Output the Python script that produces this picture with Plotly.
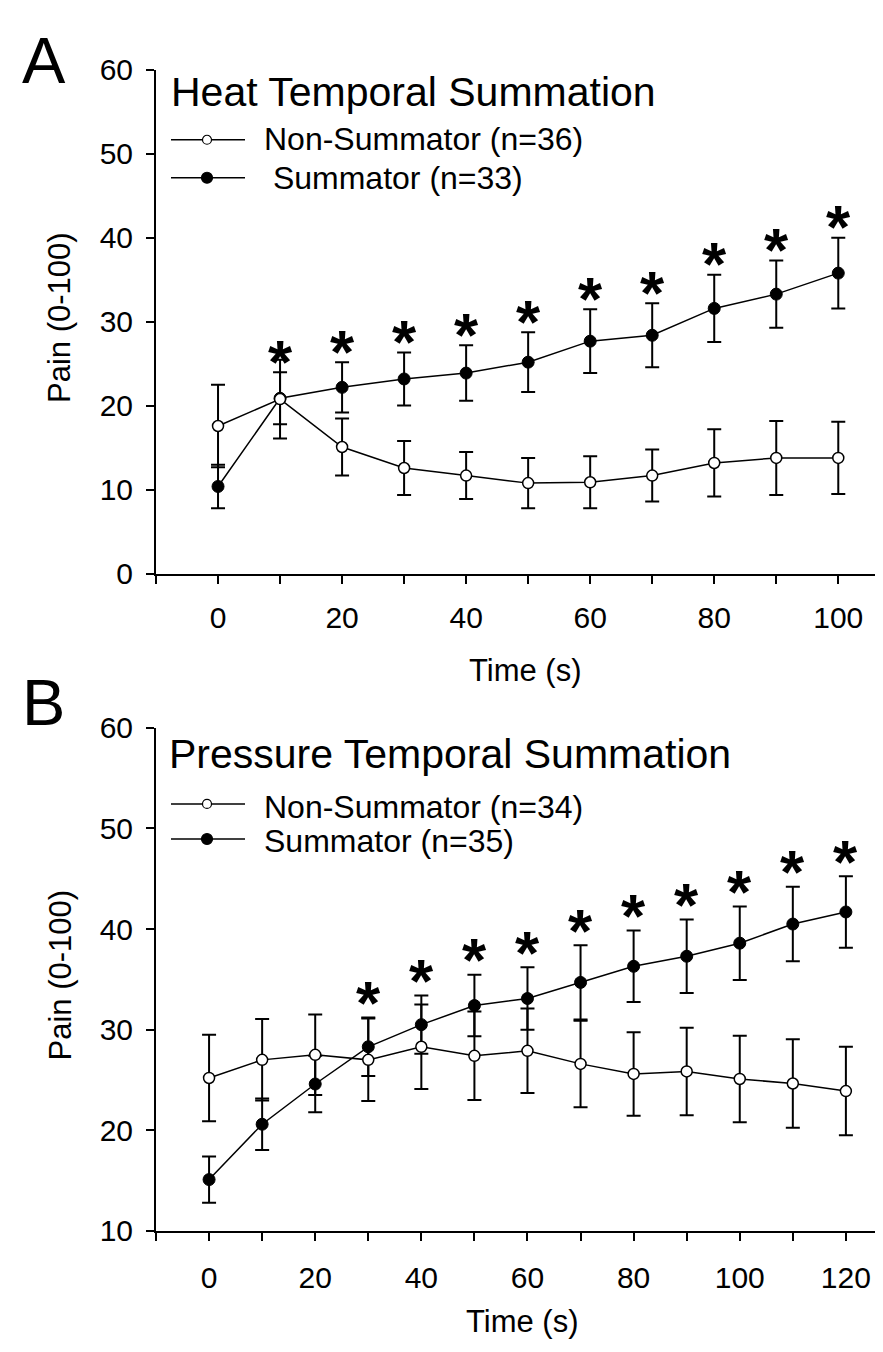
import plotly.graph_objects as go

# Panel A - heat temporal summation
heat_time = [0, 10, 20, 30, 40, 50, 60, 70, 80, 90, 100]
heat_non = [17.6, 20.8, 15.1, 12.6, 11.7, 10.8, 10.9, 11.7, 13.2, 13.8, 13.8]
heat_non_err = [4.9, 4.7, 3.4, 3.2, 2.8, 3.0, 3.1, 3.1, 4.0, 4.4, 4.3]
heat_sum = [10.4, 20.9, 22.2, 23.2, 23.9, 25.2, 27.7, 28.4, 31.6, 33.3, 35.8]
heat_sum_err = [2.6, 3.1, 3.0, 3.15, 3.3, 3.55, 3.8, 3.8, 4.0, 4.0, 4.2]
heat_sig = [False, True, True, True, True, True, True, True, True, True, True]
heat_names = ["Non-Summator (n=36)", "\u00a0Summator (n=33)"]

# Panel B - pressure temporal summation
press_time = [0, 10, 20, 30, 40, 50, 60, 70, 80, 90, 100, 110, 120]
press_non = [25.2, 27.0, 27.5, 27.0, 28.3, 27.4, 27.9, 26.6, 25.6, 25.85, 25.1, 24.65, 23.9]
press_non_err = [4.3, 4.05, 4.0, 4.1, 4.2, 4.4, 4.2, 4.3, 4.15, 4.35, 4.3, 4.4, 4.4]
press_sum = [15.1, 20.6, 24.6, 28.3, 30.5, 32.4, 33.1, 34.7, 36.3, 37.3, 38.6, 40.5, 41.7]
press_sum_err = [2.3, 2.55, 2.8, 2.9, 2.9, 3.05, 3.1, 3.7, 3.55, 3.65, 3.65, 3.7, 3.55]
press_sig = [False, False, False, True, True, True, True, True, True, True, True, True, True]
press_names = ["Non-Summator (n=34)", "Summator (n=35)"]

FONT = "Arial, Liberation Sans, sans-serif"
W, H = 883, 1352


def px(x, y):
    # pixel position -> paper coords
    return x / W, 1 - y / H


fig = go.Figure()


def add_group(x, y, err, filled, xa, ya):
    fig.add_trace(go.Scatter(
        x=x, y=y, mode="lines+markers", showlegend=False,
        xaxis=xa, yaxis=ya,
        line=dict(color="black", width=1.5),
        marker=dict(size=12 if filled else 11, symbol="circle",
                    color="black" if filled else "white",
                    line=dict(color="black", width=1 if filled else 1.5)),
        error_y=dict(type="data", array=err, color="black",
                     thickness=2, width=7),
        cliponaxis=False,
    ))


add_group(heat_time, heat_sum, heat_sum_err, True, "x", "y")
add_group(heat_time, heat_non, heat_non_err, False, "x", "y")
add_group(press_time, press_sum, press_sum_err, True, "x2", "y2")
add_group(press_time, press_non, press_non_err, False, "x2", "y2")


def stars(times, means, errs, sig, xr, yr, shift):
    for t, m, e, s in zip(times, means, errs, sig):
        if s:
            fig.add_annotation(x=t, y=m + e, xref=xr, yref=yr, text="<b>*</b>",
                               showarrow=False, yanchor="middle", yshift=shift,
                               font=dict(size=62, family=FONT, color="black"))


stars(heat_time, heat_sum, heat_sum_err, heat_sig, "x", "y", 11)
stars(press_time, press_sum, press_sum_err, press_sig, "x2", "y2", 15)


def text(x, y, s, size, anchor="left", angle=0):
    fx, fy = px(x, y)
    fig.add_annotation(x=fx, y=fy, xref="paper", yref="paper", text=s,
                       showarrow=False, xanchor=anchor, yanchor="middle",
                       textangle=angle,
                       font=dict(size=size, family=FONT, color="black"))


def swatch(y, filled):
    x0, fy = px(163, y)
    x1, _ = px(237, y)
    xc, _ = px(199, y)
    fig.add_shape(type="line", xref="paper", yref="paper", x0=x0, x1=x1, y0=fy, y1=fy,
                  line=dict(color="black", width=1.5))
    r = 5.5 if filled else 4.5
    fig.add_shape(type="circle", xref="paper", yref="paper",
                  xsizemode="pixel", ysizemode="pixel", xanchor=xc, yanchor=fy,
                  x0=-r, x1=r, y0=-r, y1=r,
                  fillcolor="black" if filled else "white",
                  line=dict(color="black", width=1.2))


# panel letters, titles and legends
text(12, 36.5, "A", 65)
text(12, 695, "B", 65)
text(161, 68.5, "Heat Temporal Summation", 41)
text(159, 748.3, "Pressure Temporal Summation", 41)

swatch(117.7, False)
swatch(156.7, True)
text(253.5, 116.7, heat_names[0], 32)
text(253.5, 156.7, heat_names[1], 32)

swatch(799, False)
swatch(835, True)
text(253.5, 801.7, press_names[0], 32)
text(253.5, 836.7, press_names[1], 32)

# axis titles
text(52, 300.5, "Pain (0-100)", 31, anchor="center", angle=-90)
text(52, 975, "Pain (0-100)", 31, anchor="center", angle=-90)
text(517.5, 662, "Time (s)", 31, anchor="center")
text(514, 1330, "Time (s)", 31, anchor="center")

ax_common = dict(showline=True, linecolor="black", linewidth=2, ticks="outside",
                 ticklen=8, tickwidth=2, tickcolor="black", showgrid=False,
                 zeroline=False, tickfont=dict(size=30, family=FONT, color="black"))

ticks_a = list(range(-10, 101, 10))
ticks_b = list(range(-10, 121, 10))


def lab(v):
    return str(v) if v >= 0 and v % 20 == 0 else ""


x0 = 148 / W
fig.update_layout(
    width=W, height=H, margin=dict(l=0, r=0, t=0, b=0),
    paper_bgcolor="white", plot_bgcolor="white",
    font=dict(family=FONT, color="black"), showlegend=False,
    xaxis=dict(ax_common, domain=[x0, 1], range=[-10, 108.5], anchor="y",
               ticklabelstandoff=8,
               tickvals=ticks_a, ticktext=[lab(v) for v in ticks_a]),
    yaxis=dict(ax_common, domain=[1 - 563 / H, 1 - 46 / H], range=[0, 60], anchor="x",
               dtick=10, ticklabelstandoff=7),
    xaxis2=dict(ax_common, domain=[x0, 1], range=[-10, 128.5], anchor="y2",
                ticklabelstandoff=11,
                tickvals=ticks_b, ticktext=[lab(v) for v in ticks_b]),
    yaxis2=dict(ax_common, domain=[1 - 1237 / H, 1 - 721 / H], range=[10, 60], anchor="x2",
                dtick=10, ticklabelstandoff=7),
)

fig.write_html("out.html")
